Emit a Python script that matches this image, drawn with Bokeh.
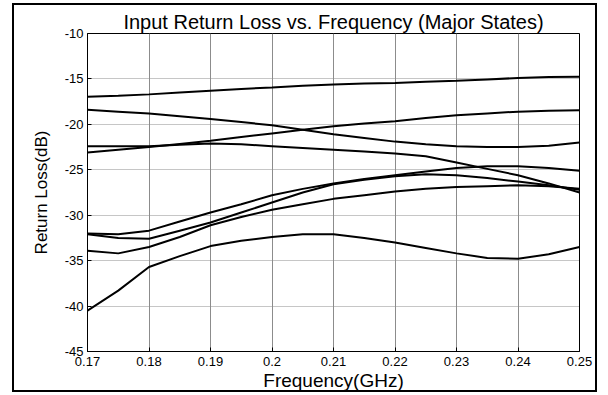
from bokeh.plotting import figure
from bokeh.models import Range1d, FixedTicker, InlineStyleSheet
from bokeh.embed import file_html
from bokeh.resources import INLINE

# ---- data ----
freq = [0.170, 0.175, 0.180, 0.185, 0.190, 0.195, 0.200, 0.205, 0.210,
        0.215, 0.220, 0.225, 0.230, 0.235, 0.240, 0.245, 0.250]

state_a = [-16.95, -16.85, -16.7, -16.5, -16.3, -16.1, -15.95, -15.75, -15.6,
           -15.5, -15.45, -15.3, -15.2, -15.05, -14.9, -14.8, -14.75]
state_b = [-18.4, -18.6, -18.8, -19.1, -19.4, -19.75, -20.1, -20.6, -21.1,
           -21.5, -21.9, -22.2, -22.4, -22.5, -22.5, -22.35, -22.0]
state_c = [-23.1, -22.8, -22.5, -22.15, -21.8, -21.4, -21.0, -20.6, -20.2,
           -19.9, -19.65, -19.3, -19.0, -18.8, -18.6, -18.5, -18.45]
state_d = [-22.4, -22.4, -22.4, -22.25, -22.1, -22.2, -22.4, -22.6, -22.8,
           -23.0, -23.2, -23.5, -24.2, -24.9, -25.6, -26.5, -27.5]
state_e1 = [-32.0, -32.1, -31.7, -30.7, -29.7, -28.8, -27.8, -27.1, -26.5,
            -26.0, -25.6, -25.2, -24.8, -24.6, -24.6, -24.8, -25.1]
state_e2 = [-32.1, -32.5, -32.6, -31.7, -30.8, -29.7, -28.6, -27.5, -26.6,
            -26.1, -25.7, -25.5, -25.6, -25.9, -26.3, -26.7, -27.2]
state_e3 = [-33.9, -34.2, -33.5, -32.4, -31.1, -30.2, -29.4, -28.8, -28.2,
            -27.8, -27.4, -27.1, -26.9, -26.8, -26.7, -26.8, -27.1]
state_f = [-40.5, -38.3, -35.7, -34.5, -33.4, -32.8, -32.4, -32.1, -32.1,
           -32.5, -33.0, -33.6, -34.2, -34.7, -34.8, -34.3, -33.5]

series = [state_a, state_b, state_c, state_d, state_e1, state_e2, state_e3, state_f]

x_ticks = [0.17, 0.18, 0.19, 0.20, 0.21, 0.22, 0.23, 0.24, 0.25]
x_tick_labels = ["0.17", "0.18", "0.19", "0.2", "0.21", "0.22", "0.23", "0.24", "0.25"]
y_ticks = [-45, -40, -35, -30, -25, -20, -15, -10]
y_tick_labels = ["-45", "-40", "-35", "-30", "-25", "-20", "-15", "-10"]

FONT = "Liberation Sans"

# outer black frame around the whole chart (drawn by the page, not the canvas)
frame_css = InlineStyleSheet(css="""
:host { position: relative; }
:host::after {
  content: "";
  position: absolute;
  left: 12px; top: 3px; right: 11px; bottom: 3px;
  border: 2px solid black;
  pointer-events: none;
}
""")

p = figure(width=608, height=395, output_backend="svg", toolbar_location=None,
           x_range=Range1d(0.17, 0.25), y_range=Range1d(-45, -10),
           min_border_left=87, min_border_right=29, min_border_top=33,
           min_border_bottom=44,
           title="Input Return Loss vs. Frequency (Major States)",
           stylesheets=[frame_css])

p.title.align = "center"
p.title.text_font = FONT
p.title.text_font_size = "20px"
p.title.text_font_style = "normal"
p.title.text_color = "black"
p.title.standoff = 2

p.outline_line_color = "black"
p.outline_line_width = 1
p.background_fill_color = "white"
p.border_fill_color = "white"

for ax in (p.xaxis[0], p.yaxis[0]):
    ax.axis_line_color = "black"
    ax.major_tick_line_color = "black"
    ax.major_tick_in = 4
    ax.major_tick_out = 0
    ax.minor_tick_line_color = None
    ax.major_label_text_font = FONT
    ax.major_label_text_font_size = "13px"
    ax.major_label_text_color = "black"
    ax.axis_label_text_font = FONT
    ax.axis_label_text_font_style = "normal"
    ax.axis_label_text_color = "black"

p.xaxis.ticker = FixedTicker(ticks=x_ticks)
p.xaxis.major_label_overrides = dict(zip(x_ticks, x_tick_labels))
p.xaxis.axis_label = "Frequency(GHz)"
p.xaxis.axis_label_text_font_size = "19px"
p.xaxis.major_label_standoff = 5
p.xaxis.axis_label_standoff = 1

p.yaxis.ticker = FixedTicker(ticks=y_ticks)
p.yaxis.major_label_overrides = dict(zip(y_ticks, y_tick_labels))
p.yaxis.axis_label = "Return Loss(dB)"
p.yaxis.axis_label_text_font_size = "17px"
p.yaxis.major_label_standoff = 4
p.yaxis.axis_label_standoff = 11

p.xgrid.grid_line_color = "#8c8c8c"
p.xgrid.grid_line_width = 1
p.ygrid.grid_line_color = "#8c8c8c"
p.ygrid.grid_line_width = 1
p.ygrid.grid_line_dash = "1 1"

for ys in series:
    p.line(freq, ys, line_color="black", line_width=2)

open("out.html", "w").write(file_html(p, INLINE))
